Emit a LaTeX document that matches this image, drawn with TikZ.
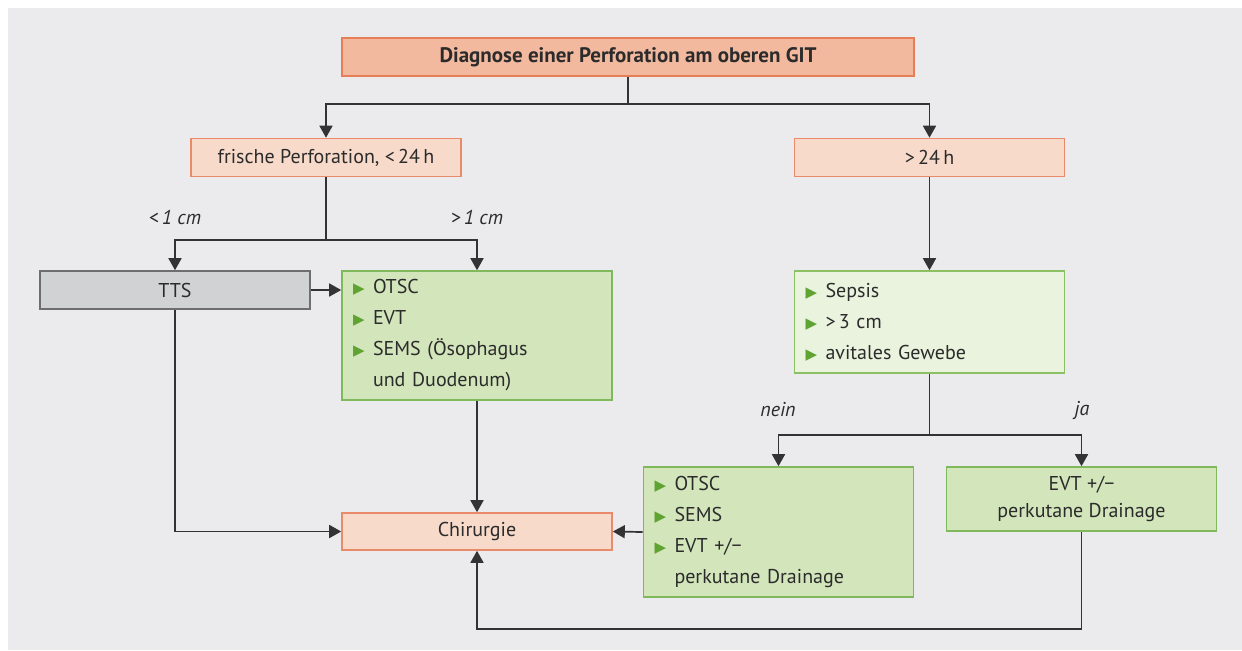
\documentclass[tikz,border=0pt]{standalone}
\usepackage{fontspec}
\setmainfont{PT Sans}
\newfontfamily\symfont{DejaVu Sans}
\usetikzlibrary{arrows.meta, positioning, calc}

\definecolor{panelgray}{HTML}{EBEBED}
\definecolor{textgray}{HTML}{2B2B2B}
\definecolor{linegray}{HTML}{333333}
\definecolor{diagfill}{HTML}{F2B99F}
\definecolor{diagline}{HTML}{E67E58}
\definecolor{palefill}{HTML}{F8DACA}
\definecolor{paleline}{HTML}{E98A6A}
\definecolor{ttsfill}{HTML}{D1D2D4}
\definecolor{ttsline}{HTML}{6E6E6E}
\definecolor{greenfill}{HTML}{D3E5BB}
\definecolor{greenline}{HTML}{80B95C}
\definecolor{lightfill}{HTML}{E9F3DE}
\definecolor{lightline}{HTML}{8BC163}
\definecolor{bulgreen}{HTML}{5FA332}

\newcommand{\bul}{\makebox[10pt][l]{\symfont\fontsize{7.5}{7.5}\selectfont\color{bulgreen}▶}}
\newcommand{\nobul}{\hspace*{10pt}}

\begin{document}
\begin{tikzpicture}[
        x=0.5pt, y=-0.5pt,
        box/.style = {draw, line width=0.8pt, inner sep=0pt, text=textgray, font=\fontsize{10}{12}\selectfont, minimum width=135pt},
        diagbox/.style = {box, fill=diagfill, draw=diagline, minimum width=286pt, minimum height=19pt, font=\fontsize{10.5}{12}\selectfont\bfseries},
        pale/.style = {box, fill=palefill, draw=paleline, minimum height=19pt},
        ttsbox/.style = {box, fill=ttsfill, draw=ttsline, minimum height=19pt},
        listbox/.style = {box, align=left, text width=124pt, inner xsep=5.5pt, font=\fontsize{10}{15.5}\selectfont},
        greenlist/.style = {listbox, fill=greenfill, draw=greenline},
        lightlist/.style = {listbox, fill=lightfill, draw=lightline},
        edge/.style = {-{Triangle[length=6pt, width=6.5pt]}, line width=0.85pt, draw=linegray},
        label/.style = {font=\fontsize{10}{12}\selectfont\itshape, text=textgray}
    ]
    % panel
    \useasboundingbox (0,0) rectangle (1242,650);
    \fill[white] (0,0) rectangle (1242,650);
    \fill[panelgray] (8,8) rectangle (1242,650);

    % boxes
    \node[diagbox] (diag) at (628,57) {Diagnose einer Perforation am oberen GIT};
    \node[pale] (fresh) at (326,157.5) {frische Perforation, <\,24\,h};
    \node[pale] (late) at (929.5,157.5) {>\,24\,h};
    \node[ttsbox] (tts) at (175,290) {TTS};
    \node[greenlist, minimum height=64.5pt] (otsc) at (477,335.5)
        {\bul OTSC\\ \bul EVT\\ \bul SEMS (Ösophagus\\ \nobul und Duodenum)};
    \node[pale, minimum height=18.5pt] (chir) at (477,531.5) {Chirurgie};
    \node[lightlist, minimum height=51pt] (sepsis) at (929.5,322)
        {\bul Sepsis\\ \bul >\,3 cm\\ \bul avitales Gewebe};
    \node[greenlist, minimum height=65pt] (nein) at (778.5,532)
        {\bul OTSC\\ \bul SEMS\\ \bul EVT +/−\\ \nobul perkutane Drainage};
    \node[box, fill=greenfill, draw=greenline, minimum height=32pt, align=center, font=\fontsize{10}{13.5}\selectfont] (ja) at (1081.5,499)
        {EVT +/−\\ perkutane Drainage};

    % branch points
    \coordinate (split1) at (628,104);
    \coordinate (split2) at (326,240);
    \coordinate (split3) at (929.5,435);

    \draw[edge] (diag.south) -- (split1) -| (fresh.north);
    \draw[edge] (split1) -| (late.north);
    \draw[edge] (fresh.south) -- (split2) -| (tts.north);
    \draw[edge] (split2) -| (otsc.north);
    \draw[edge] (tts.east) -- (tts.east -| otsc.west);
    \draw[edge] (tts.south) |- (chir.west);
    \draw[edge] (otsc.south) -- (chir.north);
    \draw[edge] (late.south) -- (sepsis.north);
    \draw[edge] (sepsis.south) -- (split3) -| (nein.north);
    \draw[edge] (split3) -| (ja.north);
    \draw[edge] (nein.west) -- (chir.east);
    \draw[edge] (ja.south) -- ++(0,97) -| (chir.south);

    % labels
    \node[label] (lsmall) at (175,217) {<\,1 cm};
    \node[label] (llarge) at (477,217) {>\,1 cm};
    \node[label] (lnein) at (778,410) {nein};
    \node[label] (lja) at (1082,410) {ja};
\end{tikzpicture}
\end{document}
